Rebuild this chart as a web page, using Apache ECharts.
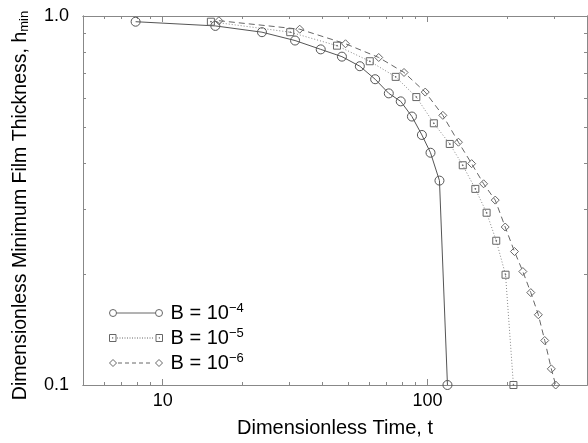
<!DOCTYPE html>
<html>
<head>
    <meta charset="utf-8">
    <title>Minimum Film Thickness</title>
</head>
<body style="margin:0">
<div id="container" style="width:588px;height:443px"></div>

<script src="https://cdn.jsdelivr.net/npm/echarts@6.0.0/dist/echarts.min.js" type="text/javascript"></script>
<script type="text/javascript">

    // data
    var seriesNames = ['B = 10^-4', 'B = 10^-5', 'B = 10^-6'];
    var seriesExps = ['\u22124', '\u22125', '\u22126'];

    var t4 = [7.9, 15.8, 23.7, 31.6, 39.5, 47.5, 55.5, 63.4, 71.4, 79.2, 87.3, 95.2, 102.6, 110.9, 118.9];
    var h4 = [0.965, 0.940, 0.904, 0.858, 0.812, 0.776, 0.731, 0.674, 0.617, 0.587, 0.534, 0.476, 0.426, 0.358, 0.1];

    var t5 = [15.2, 30.3, 45.5, 60.5, 75.8, 90.7, 105.6, 121.3, 135.8, 151.5, 167.1, 181.7, 197.0, 211.0];
    var h5 = [0.965, 0.904, 0.831, 0.754, 0.684, 0.603, 0.512, 0.450, 0.394, 0.340, 0.293, 0.246, 0.199, 0.1];

    var t6 = [16.3, 32.9, 49.0, 65.4, 81.5, 98.0, 114.2, 130.8, 146.7, 162.8, 180.1, 196.4, 212.9, 229.0, 245.4, 262.0, 277.0, 293.3, 304.6];
    var h6 = [0.971, 0.921, 0.841, 0.772, 0.703, 0.622, 0.538, 0.455, 0.398, 0.351, 0.317, 0.268, 0.230, 0.203, 0.178, 0.155, 0.132, 0.1106, 0.1];

    var xMajor = [10, 100];
    var xMinor = [6, 7, 8, 9, 20, 30, 40, 50, 60, 70, 80, 90, 200, 300];
    var yMajor = [0.1, 1];
    var yMinor = [0.2, 0.3, 0.4, 0.5, 0.6, 0.7, 0.8, 0.9];

    var font = 'Liberation Sans';
    var frame = '#888';

    function zip(a, b) {
        return a.map(function (v, i) { return [v, b[i]]; });
    }

    // legend icons: marker - line - marker, like the original key
    function dashes(x0, x1, len, gap) {
        var s = '';
        for (var x = x0; x + len <= x1; x += len + gap) {
            s += 'M' + x + ',4H' + (x + len);
        }
        return s;
    }
    var iconCircle = 'path://M0.5,4A3.5,3.5,0,1,1,7.5,4A3.5,3.5,0,1,1,0.5,4Z' +
        'M7.5,4H46.5' +
        'M46.5,4A3.5,3.5,0,1,1,53.5,4A3.5,3.5,0,1,1,46.5,4Z';
    var iconSquare = 'path://M0.5,0.5H7V7.5H0.5ZM3.5,3.7H4V4.2H3.5Z' +
        dashes(8, 46, 1, 1.5) +
        'M47,0.5H53.5V7.5H47ZM50,3.7H50.5V4.2H50Z';
    var iconDiamond = 'path://M0.5,4L4,0.5L7.5,4L4,7.5Z' +
        dashes(9, 46, 4, 3) +
        'M46.5,4L50,0.5L53.5,4L50,7.5Z';

    function xAx(pos, ticks, len, labels, name) {
        return {
            type: 'log', logBase: 10, min: 5, max: 400, position: pos, gridIndex: 0,
            axisLine: {show: true, onZero: false, lineStyle: {color: frame, width: 1}},
            axisTick: {show: true, inside: true, length: len, customValues: ticks,
                lineStyle: {color: frame}},
            axisLabel: labels ? {show: true, customValues: labels, margin: 7, fontSize: 18,
                color: '#000', fontFamily: font, formatter: function (v) { return String(Math.round(v)); }}
                : {show: false},
            splitLine: {show: false},
            name: name || '',
            nameLocation: 'middle',
            nameGap: 33,
            nameTextStyle: {fontSize: 20, color: '#000', fontFamily: font}
        };
    }

    function yAx(pos, ticks, len, labels, name) {
        return {
            type: 'log', logBase: 10, min: 0.1, max: 1, position: pos, gridIndex: 0,
            axisLine: {show: true, onZero: false, lineStyle: {color: frame, width: 1}},
            axisTick: {show: true, inside: true, length: len, customValues: ticks,
                lineStyle: {color: frame}},
            axisLabel: labels ? {show: true, customValues: labels, margin: 14, fontSize: 18,
                color: '#000', fontFamily: font, formatter: function (v) { return v.toFixed(1); }}
                : {show: false},
            splitLine: {show: false},
            name: name || '',
            nameLocation: 'middle',
            nameGap: 52,
            nameTextStyle: {fontSize: 19.5, color: '#000', fontFamily: font, padding: [0, 10, 0, 0],
                rich: {
                    m: {fontSize: 19.5, color: '#000', fontFamily: font},
                    s: {fontSize: 13, color: '#000', fontFamily: font, verticalAlign: 'bottom'}
                }}
        };
    }

    var myChart = echarts.init(document.getElementById('container'));

    var option = {
        backgroundColor: '#fff',
        animation: false,
        grid: {left: 83, top: 16, right: 1, bottom: 55},
        xAxis: [
            xAx('bottom', xMajor, 6, xMajor, 'Dimensionless Time, t'),
            xAx('bottom', xMinor, 3),
            xAx('top', xMajor, 6),
            xAx('top', xMinor, 3)
        ],
        yAxis: [
            yAx('left', yMajor, 6, yMajor, '{m|Dimensionless Minimum Film Thickness, h}{s|min}'),
            yAx('left', yMinor, 3),
            yAx('right', yMajor, 6),
            yAx('right', yMinor, 3)
        ],
        legend: {
            orient: 'vertical',
            left: 104,
            top: 297,
            itemGap: 3,
            itemWidth: 53,
            itemHeight: 7,
            data: [
                {name: seriesNames[0], icon: iconCircle},
                {name: seriesNames[1], icon: iconSquare},
                {name: seriesNames[2], icon: iconDiamond}
            ],
            itemStyle: {color: 'rgba(0,0,0,0)', borderColor: '#666', borderWidth: 1},
            formatter: function (n) {
                return 'B = 10{sup|' + seriesExps[seriesNames.indexOf(n)] + '}';
            },
            textStyle: {
                fontSize: 20, color: '#000', fontFamily: font, padding: [0, 0, 0, 3], lineHeight: 22,
                rich: {sup: {fontSize: 13, color: '#000', fontFamily: font, verticalAlign: 'top', lineHeight: 13}}
            }
        },
        series: [
            {
                name: seriesNames[0], type: 'line', data: zip(t4, h4),
                symbol: 'circle', symbolSize: 9,
                lineStyle: {color: '#555', width: 1, type: 'solid'},
                itemStyle: {color: 'rgba(0,0,0,0)', borderColor: '#555', borderWidth: 1}
            },
            {
                name: seriesNames[1], type: 'line', data: zip(t5, h5),
                symbol: 'path://M0,0H10V10H0ZM4.5,4.5H5.5V5.5H4.5Z', symbolSize: 7,
                lineStyle: {color: '#888', width: 1, type: [1, 2]},
                itemStyle: {color: 'rgba(0,0,0,0)', borderColor: '#666', borderWidth: 1}
            },
            {
                name: seriesNames[2], type: 'line', data: zip(t6, h6),
                symbol: 'diamond', symbolSize: [8, 8],
                lineStyle: {color: '#666', width: 1, type: [6, 4]},
                itemStyle: {color: 'rgba(0,0,0,0)', borderColor: '#666', borderWidth: 1}
            }
        ]
    };

    myChart.setOption(option);
</script>
</body>
</html>
